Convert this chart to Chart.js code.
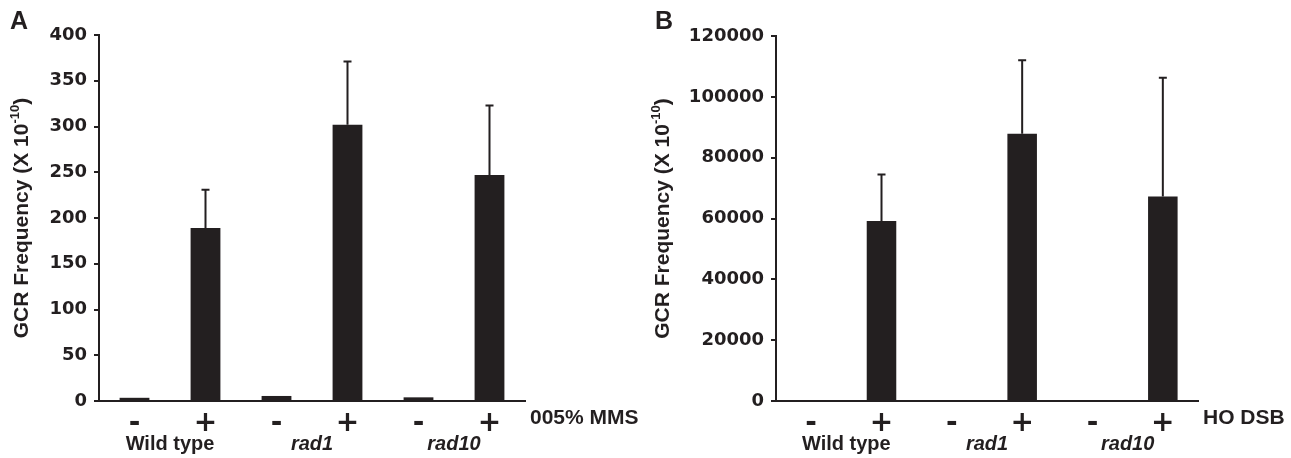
<!DOCTYPE html>
<html>
<head>
<meta charset="utf-8">
<script src="https://cdn.jsdelivr.net/npm/chart.js@4.4.1/dist/chart.umd.min.js"></script>
<style>
  html, body { margin: 0; padding: 0; background: #fff; }
  #wrap { position: relative; width: 1291px; height: 458px; }
  .panel { position: absolute; top: 0; height: 458px; }
</style>
</head>
<body>
<div id="wrap">
  <div class="panel" style="left:0;width:645px"><canvas id="chA" width="645" height="458"></canvas></div>
  <div class="panel" style="left:645px;width:646px"><canvas id="chB" width="646" height="458"></canvas></div>
</div>
<script>
// data
const signs = ['-', '+', '-', '+', '-', '+'];
const strains = ['Wild type', 'rad1', 'rad10'];

const mmsValues = [3.5, 189, 5.5, 302, 4, 247];
const mmsErrors = [0, 42, 0, 69, 0, 76];
const mmsTicks = [0, 50, 100, 150, 200, 250, 300, 350, 400];

const dsbValues = [150, 59200, 300, 87900, 250, 67200];
const dsbErrors = [0, 15300, 0, 24100, 0, 39100];
const dsbTicks = [0, 20000, 40000, 60000, 80000, 100000, 120000];

const INK = '#231f20';
const TICK_FONT = { family: 'DejaVu Sans', weight: 'bold', size: 18 };
const LABEL_FAMILY = '"Liberation Sans", Arial, sans-serif';

// error bars, axis title, group names etc.
const decor = {
  id: 'decor',
  afterDatasetsDraw(chart, args, o) {
    const ctx = chart.ctx, ys = chart.scales.y;
    const meta = chart.getDatasetMeta(0);
    ctx.save();
    ctx.strokeStyle = INK; ctx.lineWidth = 2;
    o.errors.forEach((e, i) => {
      if (!e) return;
      const v = o.values[i], x = meta.data[i].x;
      const y0 = ys.getPixelForValue(v), y1 = ys.getPixelForValue(v + e);
      ctx.beginPath();
      ctx.moveTo(x, y0); ctx.lineTo(x, y1);
      ctx.moveTo(x - 4, y1); ctx.lineTo(x + 4, y1);
      ctx.stroke();
    });
    ctx.restore();
  },
  afterDraw(chart, args, o) {
    const ctx = chart.ctx, xs = chart.scales.x, area = chart.chartArea;
    ctx.save();
    ctx.fillStyle = INK;
    // panel letter
    ctx.font = 'bold 25px ' + LABEL_FAMILY;
    ctx.textAlign = 'left'; ctx.textBaseline = 'alphabetic';
    ctx.fillText(o.letter, o.letterX, 29);

    // y title with superscript
    const big = 'bold 21px ' + LABEL_FAMILY, small = 'bold 13px ' + LABEL_FAMILY;
    const p1 = 'GCR Frequency (X 10', p2 = '-10', p3 = ')';
    ctx.font = big; const w1 = ctx.measureText(p1).width, w3 = ctx.measureText(p3).width;
    ctx.font = small; const w2 = ctx.measureText(p2).width;
    const total = w1 + w2 + w3;
    ctx.translate(o.titleX, (area.top + area.bottom) / 2);
    ctx.rotate(-Math.PI / 2);
    let cx = -total / 2;
    ctx.textBaseline = 'middle';
    ctx.font = big; ctx.fillText(p1, cx, 0); cx += w1;
    ctx.font = small; ctx.fillText(p2, cx, -7); cx += w2;
    ctx.font = big; ctx.fillText(p3, cx, 0);
    ctx.setTransform(1, 0, 0, 1, 0, 0);

    // strain names under each -/+ pair
    ctx.textAlign = 'center'; ctx.textBaseline = 'alphabetic';
    strains.forEach((s, i) => {
      const x = (xs.getPixelForValue(i * 2) + xs.getPixelForValue(i * 2 + 1)) / 2;
      ctx.font = (i === 0 ? 'bold ' : 'italic bold ') + '20px ' + LABEL_FAMILY;
      ctx.fillText(s, x, 450);
    });

    // treatment label at the right end of the axis
    ctx.font = 'bold 21px ' + LABEL_FAMILY;
    ctx.textAlign = 'left'; ctx.textBaseline = 'middle';
    ctx.fillText(o.treatment, area.right + 5, 418);
    ctx.restore();
  }
};

function makeChart(id, values, errors, ticks, opt) {
  return new Chart(document.getElementById(id), {
    type: 'bar',
    data: {
      labels: signs,
      datasets: [{ data: values, backgroundColor: INK, borderWidth: 0,
        categoryPercentage: 1, barPercentage: 0.42 }]
    },
    plugins: [decor],
    options: {
      responsive: false, animation: false,
      layout: { padding: { left: 0, right: opt.right, top: opt.top, bottom: 0 } },
      plugins: {
        legend: { display: false }, tooltip: { enabled: false },
        decor: { values, errors, letter: opt.letter, letterX: opt.letterX,
          titleX: opt.titleX, treatment: opt.treatment }
      },
      scales: {
        x: {
          grid: { display: false },
          border: { display: true, color: INK, width: 2 },
          ticks: { color: INK, padding: -2, font: { family: 'DejaVu Sans', weight: 'bold', size: 28 } },
          afterFit(s) { s.height = 57; }
        },
        y: {
          min: 0, max: ticks[ticks.length - 1],
          afterBuildTicks(s) { s.ticks = ticks.map(v => ({ value: v })); },
          grid: { drawOnChartArea: false, drawTicks: true, tickLength: 5, color: INK, lineWidth: 2 },
          border: { display: true, color: INK, width: 2 },
          ticks: { color: INK, padding: 7, font: TICK_FONT, callback: v => String(v) },
          afterFit(s) { s.width = opt.left; }
        }
      }
    }
  });
}

makeChart('chA', mmsValues, mmsErrors, mmsTicks,
  { letter: 'A', letterX: 10, titleX: 22, left: 99, right: 120, top: 35, treatment: '005% MMS' });
makeChart('chB', dsbValues, dsbErrors, dsbTicks,
  { letter: 'B', letterX: 10, titleX: 18, left: 131, right: 93, top: 36, treatment: 'HO DSB' });
</script>
</body>
</html>
